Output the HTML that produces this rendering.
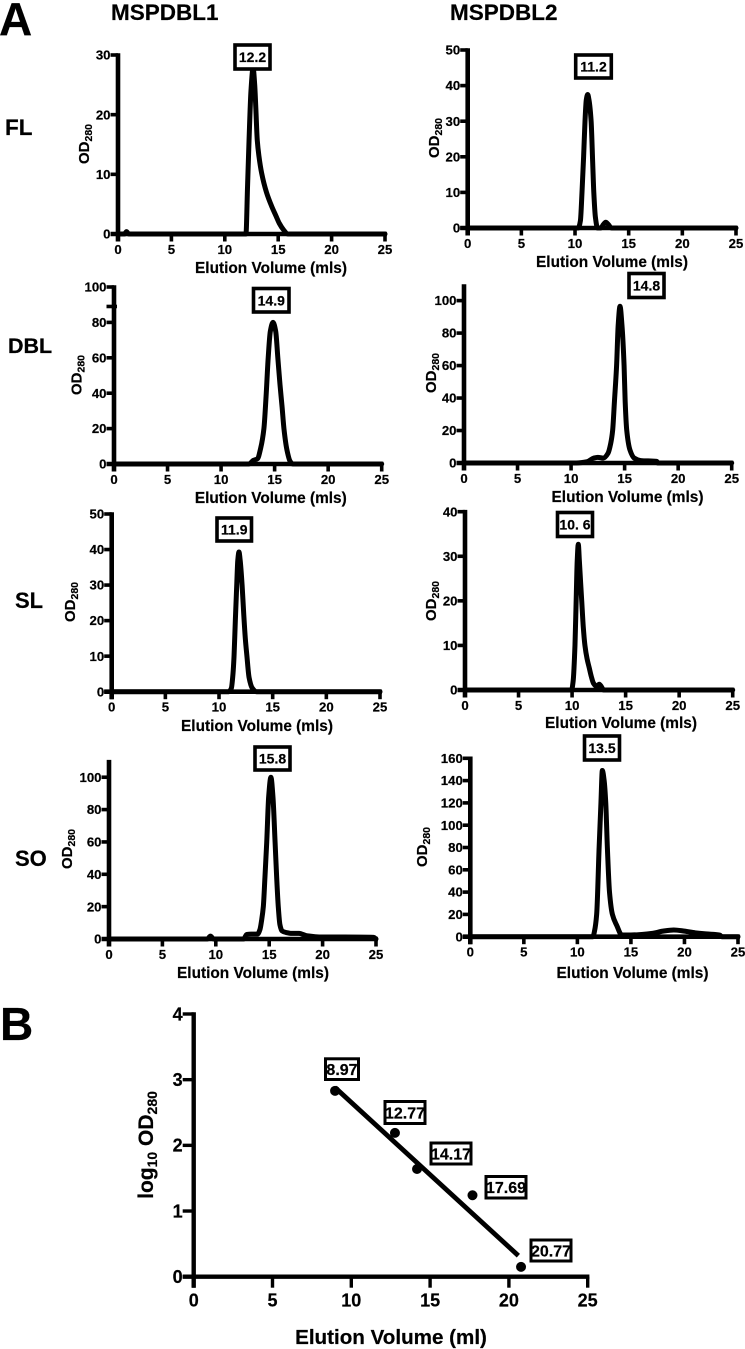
<!DOCTYPE html>
<html>
<head>
<meta charset="utf-8">
<title>Elution profiles</title>
<style>
html,body{margin:0;padding:0;background:#fff}
svg{display:block;filter:blur(.3px)}
text{font-family:"Liberation Sans",sans-serif;font-weight:bold;fill:#000;stroke:#000;stroke-width:.2px}
</style>
</head>
<body>
<svg id="figure" width="745" height="1349" viewBox="0 0 745 1349" xmlns="http://www.w3.org/2000/svg">
  <rect width="745" height="1349" fill="#fff"/>
  <text x="-1" y="35" font-size="46">A</text>
  <text x="0" y="1040" font-size="46">B</text>
  <text x="111" y="20" font-size="22.5">MSPDBL1</text>
  <text x="450" y="20" font-size="22.5">MSPDBL2</text>
  <text x="5" y="135" font-size="22.5">FL</text>
  <text x="8" y="353" font-size="21.5">DBL</text>
  <text x="15" y="608" font-size="22">SL</text>
  <text x="15" y="866" font-size="22">SO</text>
</svg>
<script>
const xTickValues = [0, 5, 10, 15, 20, 25];

const fl1Volume = [0, 0.6, 0.8, 1.0, 11.98, 12.13, 12.27, 12.45, 12.65, 12.8, 12.9, 13.04, 13.2, 13.45, 13.9, 14.4, 14.8, 15.1, 15.5, 15.9, 25];
const fl1Od = [0, 0, 0.4, 0, 0, 8, 15.7, 24, 27.8, 25, 21.3, 15.7, 13, 10.2, 7, 4.6, 3, 1.8, 0.7, 0, 0];
const fl1YTicks = [0, 10, 20, 30];

const fl2Volume = [0, 10.3, 10.5, 10.65, 10.8, 10.93, 11.05, 11.18, 11.3, 11.5, 11.65, 11.75, 11.9, 12.1, 12.4, 12.65, 12.86, 13.1, 13.4, 25];
const fl2Od = [0, 0, 2, 10, 20, 30, 36, 37.5, 36, 30, 18, 10, 3, 0, 0, 1, 1.6, 1, 0, 0];
const fl2YTicks = [0, 10, 20, 30, 40, 50];

const dbl1Volume = [0, 12.6, 13, 13.4, 13.7, 14, 14.2, 14.4, 14.6, 14.85, 15.1, 15.3, 15.5, 15.7, 15.87, 16.15, 16.45, 16.7, 25];
const dbl1Od = [0, 0, 2, 3, 9, 20, 38, 60, 75, 80, 75, 60, 45, 32, 20, 8, 1.5, 0, 0];
const dbl1YTicks = [0, 20, 40, 60, 80, 100];
const dbl1ExtraTicks = [89];

const dbl2Volume = [0, 10.5, 11.5, 12.1, 12.5, 13, 13.45, 13.7, 13.88, 14.05, 14.25, 14.4, 14.57, 14.75, 14.95, 15.05, 15.2, 15.5, 15.9, 16.5, 18, 18.1, 25];
const dbl2Od = [0, 0, 0.8, 3, 3.5, 3, 6, 12, 20, 38, 60, 85, 96.5, 85, 60, 38, 20, 8, 3, 1.5, 1, 0, 0];
const dbl2YTicks = [0, 20, 40, 60, 80, 100];

const sl1Volume = [0, 10.9, 11.15, 11.3, 11.4, 11.52, 11.65, 11.75, 11.86, 11.97, 12.15, 12.3, 12.45, 12.6, 12.8, 13.1, 13.5, 25];
const sl1Od = [0, 0, 1, 5, 10, 20, 30, 37, 39.3, 37, 30, 22, 15, 10, 4, 1, 0, 0];
const sl1YTicks = [0, 10, 20, 30, 40, 50];

const sl2Volume = [0, 9.95, 10.1, 10.27, 10.38, 10.48, 10.58, 10.68, 10.8, 10.9, 11.05, 11.2, 11.4, 11.6, 11.8, 12, 12.3, 12.54, 12.75, 12.95, 25];
const sl2Od = [0, 0, 2, 10, 20, 29, 32.7, 29, 24, 20, 14, 10, 7, 5, 3, 1.5, 0.8, 1.3, 0.7, 0, 0];
const sl2YTicks = [0, 10, 20, 30, 40];

const so1Volume = [0, 9.2, 9.5, 9.8, 12.6, 12.9, 13.3, 13.9, 14.14, 14.3, 14.45, 14.6, 14.77, 14.95, 15.16, 15.35, 15.55, 15.7, 15.85, 16, 16.2, 16.6, 17, 17.8, 18.5, 20, 22, 24.8, 25];
const so1Od = [0, 0, 1.8, 0, 0, 2.8, 3, 3, 6, 12, 20, 38, 60, 88, 100, 88, 60, 38, 20, 9, 5, 4, 3.5, 3.5, 2, 1.2, 1.2, 1, 0];
const so1YTicks = [0, 20, 40, 60, 80, 100];

const so2Volume = [0, 11.45, 11.6, 11.8, 12.03, 12.2, 12.33, 12.5, 12.65, 12.8, 13, 13.27, 13.68, 14.15, 15, 16, 17, 18, 19, 20, 21, 22, 23.3, 23.5, 25];
const so2Od = [0, 0, 5, 20, 80, 120, 149, 140, 120, 80, 40, 20, 10, 1.5, 1.5, 2, 3, 5, 6, 5, 3.5, 2.5, 1.5, 0, 0];
const so2YTicks = [0, 20, 40, 60, 80, 100, 120, 140, 160];

const calibrationVolume = [8.97, 12.77, 14.17, 17.69, 20.77];
const calibrationLogOd = [2.83, 2.19, 1.64, 1.24, 0.15];
const fitVolume = [8.97, 20.6];
const fitLogOd = [2.88, 0.32];
const calibrationYTicks = [0, 1, 2, 3, 4];

const panels = [
  {id: 'fl-mspdbl1', vol: fl1Volume, od: fl1Od, yTicks: fl1YTicks, extra: [], yMax: 30, left: 118, right: 385, bottom: 234, top: 55, peak: '12.2', box: [235, 45, 35, 24], yTitle: [89, 144], xTitle: [271, 273]},
  {id: 'fl-mspdbl2', vol: fl2Volume, od: fl2Od, yTicks: fl2YTicks, extra: [], yMax: 50, left: 467.7, right: 736, bottom: 228, top: 50, peak: '11.2', box: [575.7, 55, 35.6, 23], yTitle: [439, 138], xTitle: [612, 267]},
  {id: 'dbl-mspdbl1', vol: dbl1Volume, od: dbl1Od, yTicks: dbl1YTicks, extra: dbl1ExtraTicks, yMax: 100, left: 114, right: 381.7, bottom: 464, top: 287, peak: '14.9', box: [253.5, 288.5, 35.5, 23.5], yTitle: [81.7, 375], xTitle: [270.8, 503]},
  {id: 'dbl-mspdbl2', vol: dbl2Volume, od: dbl2Od, yTicks: dbl2YTicks, extra: [], yMax: 109, left: 464, right: 731.7, bottom: 463, top: 286, peak: '14.8', box: [629, 273.5, 35, 24], yTitle: [436, 373], xTitle: [627.5, 502]},
  {id: 'sl-mspdbl1', vol: sl1Volume, od: sl1Od, yTicks: sl1YTicks, extra: [], yMax: 50, left: 111.7, right: 380, bottom: 691.7, top: 514, peak: '11.9', box: [217, 518, 34.5, 23], yTitle: [75, 602], xTitle: [257, 731]},
  {id: 'sl-mspdbl2', vol: sl2Volume, od: sl2Od, yTicks: sl2YTicks, extra: [], yMax: 40, left: 465, right: 732.7, bottom: 690, top: 511.7, peak: '10. 6', box: [557.5, 512.5, 35, 24], yTitle: [436, 601], xTitle: [621, 728]},
  {id: 'so-mspdbl1', vol: so1Volume, od: so1Od, yTicks: so1YTicks, extra: [], yMax: 109.6, left: 109, right: 376, bottom: 939, top: 761.7, peak: '15.8', box: [255, 747, 35, 23], yTitle: [72, 849], xTitle: [253, 978]},
  {id: 'so-mspdbl2', vol: so2Volume, od: so2Od, yTicks: so2YTicks, extra: [], yMax: 160, left: 470.3, right: 738, bottom: 936.7, top: 758.3, peak: '13.5', box: [584.5, 736, 35, 24], yTitle: [427, 847], xTitle: [632.5, 978]}
];

const calibrationBoxes = [
  {label: '8.97', box: [325.5, 1058.8, 33, 20.7]},
  {label: '12.77', box: [385, 1101.5, 40, 22]},
  {label: '14.17', box: [431, 1143, 40, 21]},
  {label: '17.69', box: [486, 1176.5, 40, 21.5]},
  {label: '20.77', box: [531, 1240, 40, 21]}
];

const svg = document.getElementById('figure');
const NS = 'http://www.w3.org/2000/svg';

function make(parent, tag, attrs, text) {
  const el = document.createElementNS(NS, tag);
  for (const k in attrs) el.setAttribute(k, attrs[k]);
  if (text !== undefined) el.textContent = text;
  parent.appendChild(el);
  return el;
}

function smoothPath(xs, ys) {
  const n = xs.length;
  const h = [];
  const d = [];
  for (let i = 0; i < n - 1; i++) {
    h.push(xs[i + 1] - xs[i]);
    d.push((ys[i + 1] - ys[i]) / h[i]);
  }
  const m = [d[0]];
  for (let i = 1; i < n - 1; i++) {
    if (d[i - 1] * d[i] <= 0) {
      m.push(0);
    } else {
      const w1 = 2 * h[i] + h[i - 1];
      const w2 = h[i] + 2 * h[i - 1];
      m.push((w1 + w2) / (w1 / d[i - 1] + w2 / d[i]));
    }
  }
  m.push(d[n - 2]);
  let path = 'M' + xs[0].toFixed(1) + ' ' + ys[0].toFixed(1);
  for (let i = 0; i < n - 1; i++) {
    path += 'C' + (xs[i] + h[i] / 3).toFixed(2) + ' ' + (ys[i] + m[i] * h[i] / 3).toFixed(2) + ' ' +
      (xs[i + 1] - h[i] / 3).toFixed(2) + ' ' + (ys[i + 1] - m[i + 1] * h[i] / 3).toFixed(2) + ' ' +
      xs[i + 1].toFixed(2) + ' ' + ys[i + 1].toFixed(2);
  }
  return path;
}

function drawAxes(g, p, sx, sy, st) {
  const yAxis = make(g, 'line', {x1: p.left, x2: p.left, y1: sy(p.yMax) - st.tickW / 2, y2: p.bottom + st.tick, stroke: '#000', 'stroke-width': st.axis});
  
  
  const xAxis = make(g, 'line', {x1: p.left - st.tick, x2: p.right + st.tickW / 2, y1: p.bottom, y2: p.bottom, stroke: '#000', 'stroke-width': st.axis});
  
  
  xTickValues.forEach(function (v) {
    const t = make(g, 'line', {x1: sx(v), x2: sx(v), y1: p.bottom, y2: p.bottom + st.tick, stroke: '#000', 'stroke-width': st.tickW});
    
    
    const l = make(g, 'text', {x: sx(v), y: p.bottom + st.xLabelDy, 'text-anchor': 'middle', 'font-size': st.tickFont}, String(v));
    
    
  });
  p.yTicks.forEach(function (v) {
    const t = make(g, 'line', {x1: p.left - st.tick, x2: p.left, y1: sy(v), y2: sy(v), stroke: '#000', 'stroke-width': st.tickW});
    
    
    const l = make(g, 'text', {x: p.left - st.yLabelDx, y: sy(v) + st.tickFont * 0.35, 'text-anchor': 'end', 'font-size': st.tickFont}, String(v));
    
    
  });
  (p.extra || []).forEach(function (v) {
    const t = make(g, 'line', {x1: p.left - st.tick, x2: p.left + 3, y1: sy(v), y2: sy(v), stroke: '#000', 'stroke-width': st.tickW});
    
    
  });
}

function drawBox(g, label, box, font, sw) {
  const r = make(g, 'rect', {x: box[0], y: box[1], width: box[2], height: box[3], fill: '#fff', stroke: '#000', 'stroke-width': sw});
  
  
  const t = make(g, 'text', {x: box[0] + box[2] / 2, y: box[1] + box[3] / 2 + font * 0.36, 'text-anchor': 'middle', 'font-size': font}, label);
  
  
}

const panelStyle = {axis: 4.6, tick: 7.5, tickW: 3.6, xLabelDy: 20, yLabelDx: 7.5, tickFont: 13.2};

panels.forEach(function (p) {
  const g = make(svg, 'g', {});
  
  
  const sx = function (v) { return p.left + v / 25 * (p.right - p.left); };
  const sy = function (v) { return p.bottom - v / p.yMax * (p.bottom - p.top); };
  drawAxes(g, p, sx, sy, panelStyle);
  const line = make(g, 'path', {d: smoothPath(p.vol.map(sx), p.od.map(sy)), fill: 'none', stroke: '#000', 'stroke-width': 5, 'stroke-linejoin': 'round', 'stroke-linecap': 'round'});
  
  
  drawBox(g, p.peak, p.box, 14, 3.6);
  const xt = make(g, 'text', {x: p.xTitle[0], y: p.xTitle[1], 'text-anchor': 'middle', 'font-size': 15.4}, 'Elution Volume (mls)');
  
  
  const yt = make(g, 'text', {transform: 'translate(' + p.yTitle[0] + ',' + p.yTitle[1] + ') rotate(-90)', 'text-anchor': 'middle', 'font-size': 15}, 'OD');
  
  
  make(yt, 'tspan', {dy: 3, 'font-size': 10.5}, '280');
});

(function () {
  const g = make(svg, 'g', {});
  
  
  const p = {left: 193.7, right: 587.7, bottom: 1276.7, top: 1014, yMax: 4, yTicks: calibrationYTicks, extra: []};
  const sx = function (v) { return p.left + v / 25 * (p.right - p.left); };
  const sy = function (v) { return p.bottom - v / p.yMax * (p.bottom - p.top); };
  drawAxes(g, p, sx, sy, {axis: 4.4, tick: 11, tickW: 3.4, xLabelDy: 30, yLabelDx: 11, tickFont: 18});
  const fit = make(g, 'line', {x1: sx(fitVolume[0]), y1: sy(fitLogOd[0]), x2: sx(fitVolume[1]), y2: sy(fitLogOd[1]), stroke: '#000', 'stroke-width': 4.8});
  
  
  calibrationVolume.forEach(function (v, i) {
    const c = make(g, 'circle', {cx: sx(v), cy: sy(calibrationLogOd[i]), r: 5});
    
    
  });
  calibrationBoxes.forEach(function (b) { drawBox(g, b.label, b.box, 16, 3); });
  const xt = make(g, 'text', {x: 391, y: 1344, 'text-anchor': 'middle', 'font-size': 20.6}, 'Elution Volume (ml)');
  
  
  const yt = make(g, 'text', {transform: 'translate(153,1145) rotate(-90)', 'text-anchor': 'middle', 'font-size': 21}, 'log');
  
  
  make(yt, 'tspan', {dy: 4, 'font-size': 14}, '10');
  make(yt, 'tspan', {dy: -4}, ' OD');
  make(yt, 'tspan', {dy: 4, 'font-size': 14}, '280');
})();
</script>
</body>
</html>
